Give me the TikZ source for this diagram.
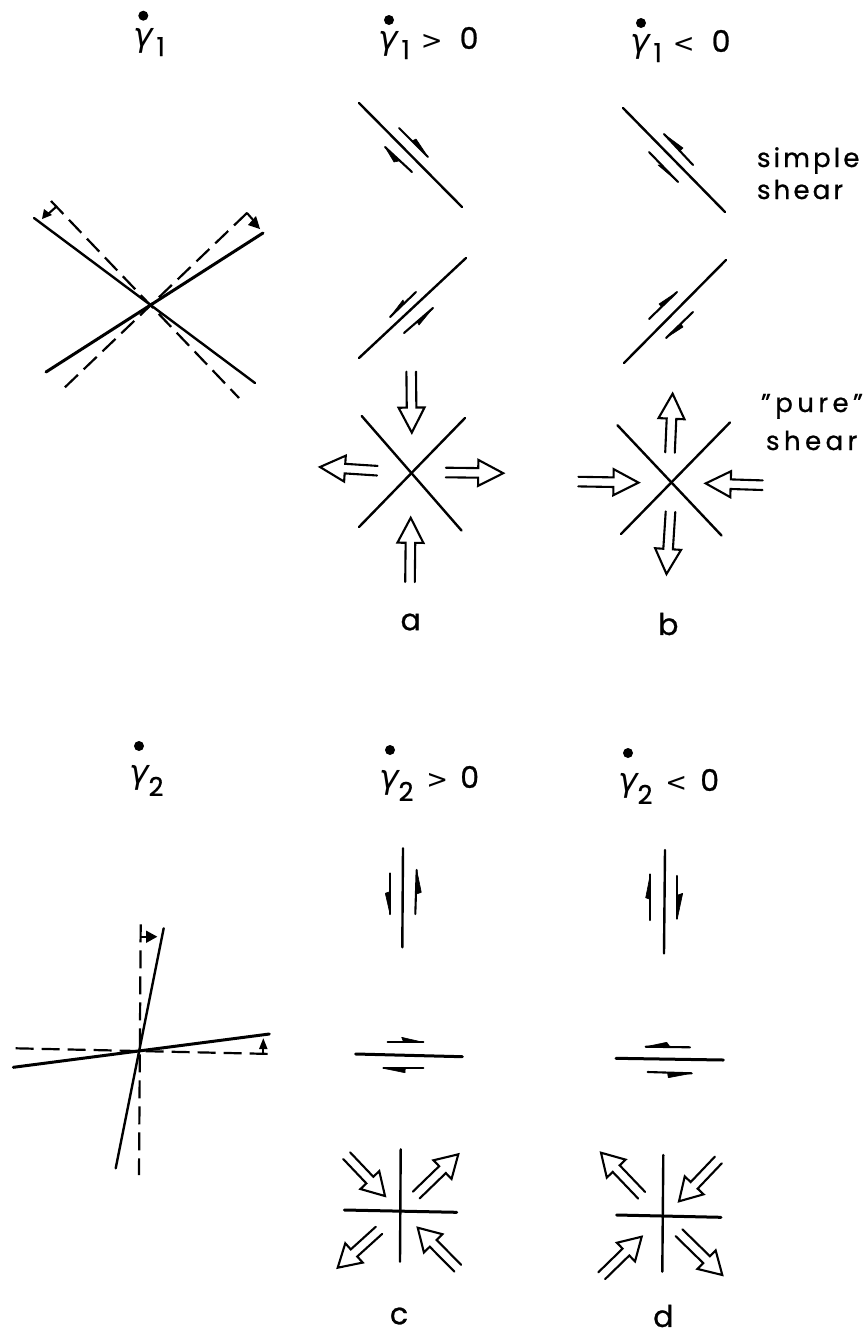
\documentclass[tikz,border=0pt]{standalone}
\usepackage{fontspec}
\setmainfont{Poppins}[FakeBold=0.8]
\newfontfamily\gamfont{DejaVu Sans}
\usetikzlibrary{calc}
\newcommand{\sarrow}[3]{%
  \draw[thinline] (#1) -- (#2);
  \fill[draw=black,line width=0.6,line join=round] (#2) -- (#3) -- ($(#2)!0.55!(#1)$) -- cycle;}
\newcommand{\harrow}[3][25]{%
  \coordinate (T) at (#2); \coordinate (H) at (#3);
  \coordinate (N) at ($(H)!#1pt!(T)$);
  \draw[hollow] ($(T)!4.8pt!90:(H)$) -- ($(N)!4.8pt!90:(H)$) -- ($(N)!13pt!90:(H)$) -- (H)
     -- ($(N)!13pt!-90:(H)$) -- ($(N)!4.8pt!-90:(H)$) -- ($(T)!4.8pt!-90:(H)$);}
\newcommand{\gdot}[2]{\fill (#1,#2) circle (5);}
\newcommand{\grate}[7]{% name, x, baseline, subscript, after-subscript text, sub kern, sub drop
  \node[lab,anchor=base west] (#1) at (#2,#3)
    {{\gamfont\itshape\fontsize{33}{33}\selectfont γ}\kern#6pt\raisebox{-#7pt}{\fontsize{26}{26}\selectfont #4}#5};}
\newcommand{\relgt}{{\gamfont\fontsize{26}{26}\selectfont >}}
\newcommand{\rellt}{{\gamfont\fontsize{26}{26}\selectfont <}}
\tikzset{
  x=1pt,y=-1pt,
  thinline/.style={line width=2.1,line cap=round,black},
  main/.style={line width=2.4,line cap=round,black},
  thick main/.style={line width=3,line cap=round,black},
  hollow/.style={line width=2.1,line cap=round,line join=miter,black},
  dashline/.style={line width=2.2,dash pattern=on 18 off 8,black},
  lab/.style={inner sep=0,outer sep=0,font=\fontsize{30}{30}\selectfont},
  side/.style={inner sep=0,outer sep=0,anchor=base west},
  sideA/.style={side,font=\fontsize{26}{26}\selectfont\addfontfeature{LetterSpace=12}},
  sideB/.style={side,font=\fontsize{26}{26}\selectfont\addfontfeature{LetterSpace=17}},
}
\begin{document}
\begin{tikzpicture}
\useasboundingbox (0,0) rectangle (866,1336);

% --- rate labels, upper row
\gdot{143.3}{15.7}
\grate{ga}{133}{46}{1}{}{4}{10}
\gdot{389}{20}
\grate{gb}{378}{49}{1}{\kern11pt\relgt\kern17pt 0}{4}{10}
\gdot{641}{23}
\grate{gc}{630}{52}{1}{\kern11pt\rellt\kern17pt 0}{4}{10}

% --- left crossing, upper
\draw[dashline] (51,201) -- (239,398);
\draw[dashline] (247,213) -- (60,392);
\draw[main] (34,218) -- (255,383);
\draw[thick main] (263,233) -- (46,372);
\draw[thinline] (56,207) -- (47,215);
\fill (42,219) -- (44,209) -- (52,215) -- cycle;
\draw[thinline] (247,213) -- (254,221);
\fill (260,229) -- (248,225) -- (256,216) -- cycle;

% --- simple shear, upper
\draw[main] (359,103) -- (462,207);
\sarrow{399,128}{428,157}{416,139}
\sarrow{412,172}{385,147}{394,162}
\draw[main] (623,108) -- (725,212);
\sarrow{693,165}{664,134}{683,148}
\sarrow{649,152}{678,182}{658,165}
\draw[main] (359,358) -- (466,258);
\sarrow{416,292}{390,317}{403,300}
\sarrow{404,333}{433,308}{419,325}
\draw[main] (624,363) -- (726,260);
\sarrow{649,319}{677,292}{659,304}
\sarrow{693,312}{666,338}{683,327}

\node[sideA] (simple) at (757,167) {simple};
\node[sideA] (shearA) at (757,199) {shear};

% --- pure shear a
\draw[main] (361.7,416) -- (461.5,530.5);
\draw[main] (465,418) -- (359,527);
\harrow{411.2,371.6}{411.8,432.6}
\harrow{377.3,470.7}{320,467}
\harrow{445.9,472.5}{503.2,473.2}
\harrow{410,582}{410.7,517.8}
\node[lab] (a) at (410.7,622) {a};

% --- pure shear b
\draw[main] (617.5,425.3) -- (721.6,535.6);
\draw[main] (730,422.4) -- (621,534);
\harrow{670,452.5}{672.6,393.7}
\harrow{578.3,481.6}{638.5,482.6}
\harrow{762.6,485.2}{705.7,483.4}
\harrow{670.5,511.7}{666.5,574}
\node[lab] (b) at (668.3,624) {b};

\node[sideB] (pure) at (761,412) {"pure"};
\node[sideB] (shearB) at (766,450) {shear};

% --- rate labels, lower row
\gdot{139}{746}
\grate{gd}{129}{783}{2}{}{0}{13}
\gdot{390}{750}
\grate{ge}{379}{788}{2}{\kern13pt\relgt\kern12pt 0}{0}{13}
\gdot{628}{753}
\grate{gf}{618}{791}{2}{\kern13pt\rellt\kern13pt 0}{0}{13}

% --- left crossing, lower
\draw[dashline] (140.7,924.3) -- (139,1175);
\draw[dashline] (15.7,1048.3) -- (272.7,1054);
\draw[main] (163.7,928.3) -- (115.7,1168.3);
\draw[thick main] (13.3,1067.3) -- (269.3,1034);
\draw[thinline] (141,936.7) -- (147,936.7);
\fill (157.3,936.7) -- (146,930.5) -- (146,943) -- cycle;
\draw[thinline] (263.3,1054) -- (263.3,1048);
\fill (263.3,1038.3) -- (259,1049) -- (267.6,1049) -- cycle;

% --- simple shear, lower
\draw[main] (403,848.3) -- (402.3,947.3);
\sarrow{390,873.3}{390,914}{385.3,893.3}
\sarrow{415.3,914}{416.7,870}{421.3,892.3}
\draw[main] (665,850) -- (664,953.3);
\sarrow{650.3,920}{650.3,874.3}{645.7,897.7}
\sarrow{677.3,876}{677.3,918.7}{682.7,893.3}

\draw[thick main] (355.7,1054) -- (462.3,1056.7);
\sarrow{387.7,1042.3}{423.3,1042.3}{401.7,1037.3}
\sarrow{423.3,1068.3}{383.3,1068.3}{405,1072.7}
\draw[thick main] (616,1058.3) -- (723.3,1060);
\sarrow{690,1047.3}{645.7,1046.7}{666.7,1042.3}
\sarrow{647.7,1072}{691.7,1073.3}{668.3,1077.7}

% --- pure shear c
\draw[main] (400.7,1149.3) -- (400,1261.7);
\draw[thick main] (344.3,1210) -- (456.7,1212.3);
\harrow[22]{346.7,1155.7}{385,1196}
\harrow[22]{416.3,1195}{458.3,1154.3}
\harrow[22]{379,1230.3}{337.7,1267.7}
\harrow[22]{457.8,1268.2}{417.7,1227.7}
\node[lab] (c) at (399,1316) {c};

% --- pure shear d
\draw[main] (663.3,1155) -- (662.3,1271.7);
\draw[thick main] (616.7,1215) -- (721,1217.3);
\harrow[22]{641.7,1195.3}{601,1152.7}
\harrow[22]{718.3,1160}{679,1201.3}
\harrow[22]{601.7,1275.7}{641.7,1236.7}
\harrow[22]{679,1232.7}{722.3,1275}
\node[lab] (d) at (663.3,1316) {d};
\end{tikzpicture}
\end{document}
